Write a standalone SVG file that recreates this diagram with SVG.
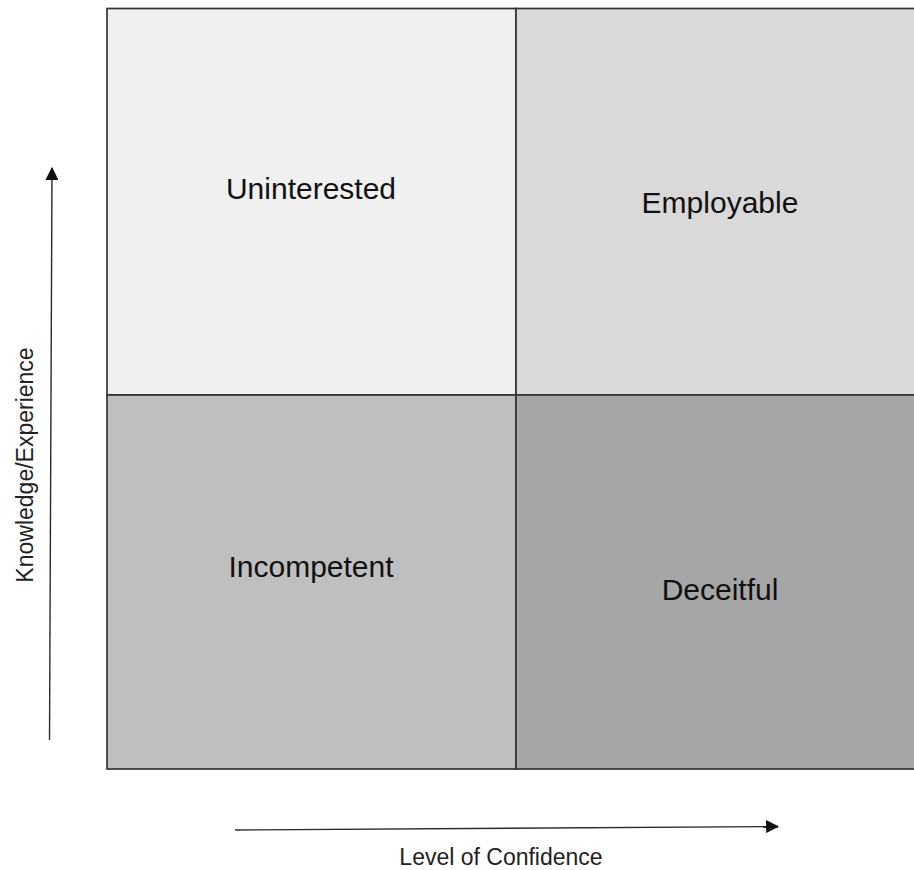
<svg xmlns="http://www.w3.org/2000/svg" width="914" height="870" viewBox="0 0 914 870">
  <style>
    .cell { stroke: #333333; stroke-width: 1.7; }
    .label { font-family: "Liberation Sans", Arial, sans-serif; font-size: 30px; fill: #111; text-anchor: middle; }
    .axis-label { font-family: "Liberation Sans", Arial, sans-serif; font-size: 23px; fill: #222; text-anchor: middle; }
    .axis { stroke: #2a2a2a; stroke-width: 1.4; fill: none; }
  </style>
  <defs>
    <marker id="arrowhead" markerUnits="userSpaceOnUse" markerWidth="13" markerHeight="13" viewBox="0 0 12 12" refX="11" refY="6" orient="auto">
      <path d="M0,0 L12,6 L0,12 Z" fill="#111"/>
    </marker>
  </defs>
  <rect width="914" height="870" fill="#ffffff"/>

  <!-- quadrant grid -->
  <g id="uninterested">
    <rect class="cell" x="107" y="8.5" width="409" height="386.5" fill="#f0f0f0"/>
    <text class="label" x="311" y="199">Uninterested</text>
  </g>
  <g id="employable">
    <rect class="cell" x="516" y="8.5" width="410" height="386.5" fill="#d9d9d9"/>
    <text class="label" x="720" y="213">Employable</text>
  </g>
  <g id="incompetent">
    <rect class="cell" x="107" y="395" width="409" height="374" fill="#bfbfbf"/>
    <text class="label" x="311" y="577">Incompetent</text>
  </g>
  <g id="deceitful">
    <rect class="cell" x="516" y="395" width="410" height="374" fill="#a6a6a6"/>
    <text class="label" x="720" y="600">Deceitful</text>
  </g>

  <!-- axes -->
  <g id="connectors">
    <line class="axis" x1="49.5" y1="740" x2="52" y2="168" marker-end="url(#arrowhead)"/>
    <line class="axis" x1="235" y1="830" x2="778" y2="826.5" marker-end="url(#arrowhead)"/>
  </g>

  <g id="axis-labels">
    <text class="axis-label" transform="translate(33,465) rotate(-90)">Knowledge/Experience</text>
    <text class="axis-label" x="501" y="865">Level of Confidence</text>
  </g>
</svg>
